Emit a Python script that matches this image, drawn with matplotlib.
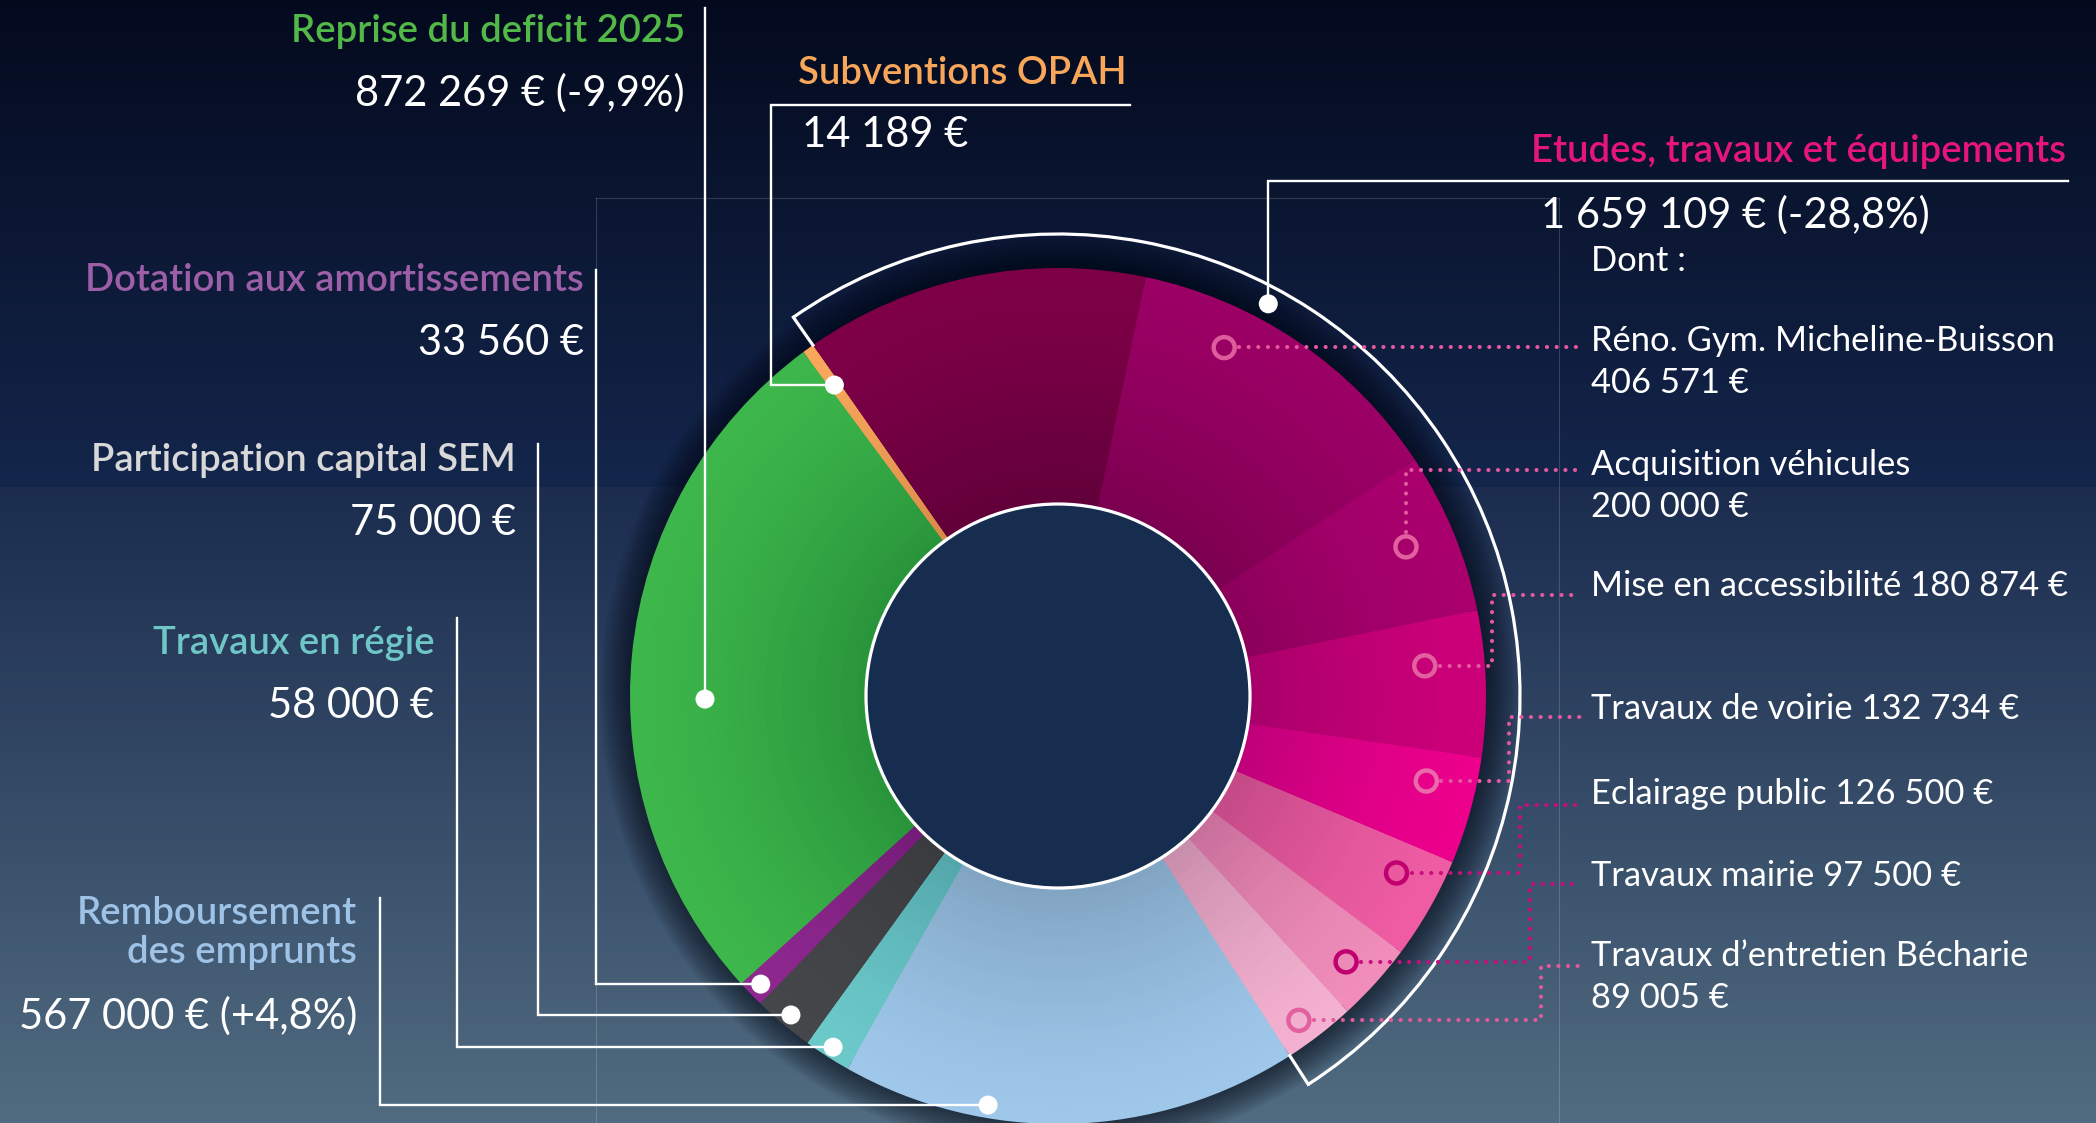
import numpy as np
import matplotlib
matplotlib.use("Agg")
import matplotlib.pyplot as plt
from matplotlib.patches import Circle, Arc
from matplotlib.colors import to_rgb

# ---------------- data ----------------
main_labels = ["Reprise du deficit 2025", "Dotation aux amortissements",
               "Participation capital SEM", "Travaux en régie",
               "Remboursement\ndes emprunts", "Etudes, travaux et équipements",
               "Subventions OPAH"]
main_values = [872269, 33560, 75000, 58000, 567000, 1659109, 14189]
main_changes = ["-9,9%", None, None, None, "+4,8%", "-28,8%", None]

sub_labels = ["Travaux d’entretien Bécharie", "Travaux mairie", "Eclairage public",
              "Travaux de voirie", "Mise en accessibilité", "Acquisition véhicules",
              "Réno. Gym. Micheline-Buisson"]
sub_values = [89005, 97500, 126500, 132734, 180874, 200000, 406571]

etudes_other = main_values[5] - sum(sub_values)
pie_values = main_values[:5] + sub_values + [etudes_other, main_values[6]]

# ---------------- style ----------------
outer_cols = ["#3db64b", "#8e288f", "#454649", "#6cc9c9", "#9ec7ea",
              "#f4b0d0", "#f08dba", "#ef5ca3", "#ec008c", "#cc0079",
              "#a9006d", "#9b0064", "#7d0046", "#f8a75b"]
inner_cols = ["#29953b", "#741c77", "#3a3b3e", "#53a7ab", "#82a5c3",
              "#c98eab", "#c96f9b", "#c44a88", "#c0007a", "#a8006a",
              "#8c005b", "#7c0050", "#62003a", "#d98b48"]

W, H = 2096, 1123
CX, CY = 1058, 696
R_OUT, R_IN = 428, 192
R_BRACKET = 462
START = 126.5  # visual angle (deg, ccw) where the first slice starts

fig = plt.figure(figsize=(W / 100, H / 100), dpi=100)
ax = fig.add_axes([0, 0, 1, 1])

# background gradient (two bands)
band = 487
c_top, c_mid1 = np.array(to_rgb("#040a1e")), np.array(to_rgb("#14264c"))
c_mid2, c_bot = np.array(to_rgb("#1b2c4f")), np.array(to_rgb("#516c81"))
img = np.zeros((H, 1, 3))
for yy in range(H):
    if yy < band:
        t = yy / band
        img[yy, 0] = c_top + (c_mid1 - c_top) * t
    else:
        t = (yy - band) / (H - band)
        img[yy, 0] = c_mid2 + (c_bot - c_mid2) * t
ax.imshow(img, extent=(0, W, H, 0), aspect="auto", zorder=0, interpolation="bilinear")

# faint frame lines
faint = dict(color="white", alpha=0.16, lw=0.8, zorder=0.5)
ax.plot([596, 596], [198, H], **faint)
ax.plot([1559, 1559], [198, H], **faint)
ax.plot([596, 1559], [198, 198], **faint)

# shadow around donut
for k in range(12):
    ax.add_patch(Circle((CX, CY), R_OUT + 1 + k * 2.6, color="#00030d",
                        alpha=0.06, lw=0, zorder=1))

# donut with radial gradient
N = 28
for i in range(N):
    t = (i / (N - 1)) ** 1.4
    r = R_OUT - (R_OUT - R_IN) * i / N
    cols = [tuple(np.array(to_rgb(o)) * (1 - t) + np.array(to_rgb(n)) * t)
            for o, n in zip(outer_cols, inner_cols)]
    ax.pie(pie_values, radius=r, center=(CX, CY), startangle=-START,
           counterclock=False, colors=cols,
           wedgeprops=dict(width=r - R_IN + 1, linewidth=0, zorder=2 + i * 0.001))

total = sum(pie_values)
bounds = START + np.concatenate([[0], np.cumsum(pie_values)]) / total * 360.0


def pt(ang, r):
    a = np.deg2rad(ang)
    return CX + r * np.cos(a), CY - r * np.sin(a)


# center disc
ax.add_patch(Circle((CX, CY), R_IN, fc="#172d4f", ec="white", lw=2.3, zorder=5))

# bracket around "Etudes"
e_start = bounds[5]
e_end = bounds[5 + len(sub_values) + 1]
th2 = 360 - e_start
th1 = th2 - (e_end - e_start)
ax.add_patch(Arc((CX, CY), 2 * R_BRACKET, 2 * R_BRACKET, theta1=th1, theta2=th2,
                 color="white", lw=2.3, zorder=6))
for ang in (e_start, e_end):
    x0, y0 = pt(ang, R_OUT)
    x1, y1 = pt(ang, R_BRACKET)
    ax.plot([x0, x1], [y0, y1], color="white", lw=2.3, zorder=6,
            solid_capstyle="projecting")

# ---------------- leaders for main categories ----------------
LW = 1.7
mids = (bounds[:-1] + bounds[1:]) / 2
anchors = {
    0: (180.5, 353),
    1: (mids[1], 414),
    2: (mids[2], 416),
    3: (mids[3], 417),
    4: (260.3, 415),
    5: (61.8, 445),
    6: (mids[-1], 383),
}


def dot(p):
    ax.add_patch(Circle(p, 9.5, fc="white", ec="none", zorder=8))


# green: straight up
p = pt(*anchors[0]); dot(p)
ax.plot([p[0], p[0]], [p[1], 8], color="white", lw=LW, zorder=7)
# left-side small categories
leader_x = {1: 596.4, 2: 538, 3: 456.7, 4: 379.5}
leader_top = {1: 270, 2: 444, 3: 618, 4: 898}
for k in (1, 2, 3, 4):
    p = pt(*anchors[k]); dot(p)
    ax.plot([p[0], leader_x[k], leader_x[k]], [p[1], p[1], leader_top[k]],
            color="white", lw=LW, zorder=7, solid_joinstyle="miter")
# OPAH
p = pt(*anchors[6]); dot(p)
ax.plot([p[0], 771, 771, 1129.5], [p[1], p[1], 105.4, 105.4],
        color="white", lw=LW, zorder=7, solid_joinstyle="miter")
# Etudes
p = pt(*anchors[5]); dot(p)
ax.plot([p[0], p[0], 2068], [p[1], 181, 181], color="white", lw=LW, zorder=7,
        solid_joinstyle="miter")

# ---------------- sub-item ring markers & dotted leaders ----------------
ring_pos = [(306.6, 404), (317.3, 392), (332.4, 382), (347.0, 378),
            (4.7, 368), (23.2, 378.6), (64.5, 386)]
ring_cols = ["#e2609f", "#bf006e", "#bf006e", "#ea6aa9", "#e2609f", "#e2609f", "#de5c9c"]
dot_cols = ["#e4589e", "#c80d7e", "#c80d7e", "#e4589e", "#e4589e", "#e4589e", "#e4589e"]
turn_x = [1541, 1530, 1520, 1509, 1492, None, None]
line_y = [966, 884, 805, 717, 595, 470, 346.5]
X_END = 1580
for i in range(len(sub_values)):
    rx, ry = pt(*ring_pos[i])
    ax.add_patch(Circle((rx, ry), 10.5, fc="none", ec=ring_cols[i], lw=3.2, zorder=8))
    if turn_x[i] is None and abs(ry - line_y[i]) > 3:
        xs = [rx, rx, X_END]; ys = [ry - 15, line_y[i], line_y[i]]
    elif turn_x[i] is None:
        xs = [rx + 15, X_END]; ys = [line_y[i], line_y[i]]
    else:
        xs = [rx + 15, turn_x[i], turn_x[i], X_END]
        ys = [ry, ry, line_y[i], line_y[i]]
    ax.plot(xs, ys, color=dot_cols[i], lw=3.0, linestyle=(0, (0.01, 2.3)),
            dash_capstyle="round", zorder=7)

# ---------------- texts ----------------
def fmt(v):
    return f"{v:,}".replace(",", " ") + " €"


TITLE = dict(family="Lato", weight="semibold", fontsize=27.5)
VAL = dict(family="Lato", weight="normal", fontsize=30, color="white")
SUB = dict(family="Lato", weight="normal", fontsize=24.8, color="white")

title_cols = ["#52b848", "#9d5fa8", "#d8d8d8", "#6fc6c6", "#9fc3e6", "#e6157e", "#f7a65a"]
title_pos = [(685, 42), (584, 291), (516, 471), (435, 654), (357, 924)]
value_pos = [(685, 106), (584, 355), (516, 535), (434, 718), (357, 1029)]
TITLE_LS = 39

for k in range(5):
    x, y = title_pos[k]
    for j, line in enumerate(main_labels[k].split("\n")):
        ax.text(x, y + j * TITLE_LS, line, ha="right", va="baseline",
                color=title_cols[k], zorder=10, **TITLE)
    s = fmt(main_values[k]) + (f" ({main_changes[k]})" if main_changes[k] else "")
    ax.text(*value_pos[k], s, ha="right", va="baseline", zorder=10, **VAL)

# OPAH
ax.text(798, 83.5, main_labels[6], ha="left", va="baseline", color=title_cols[6],
        zorder=10, **TITLE)
ax.text(802, 147, fmt(main_values[6]), ha="left", va="baseline", zorder=10, **VAL)

# Etudes
ax.text(2066, 162, main_labels[5], ha="right", va="baseline", color=title_cols[5],
        zorder=10, **TITLE)
ax.text(1541, 228, fmt(main_values[5]) + f" ({main_changes[5]})", ha="left",
        va="baseline", zorder=10, **VAL)
ax.text(1591, 271, "Dont :", ha="left", va="baseline", zorder=10, **SUB)

two_line = [True, False, False, False, False, True, True]
sub_text_y = [966, 886, 804, 719, 596, 475, 351]
SUB_LS = 42
for i in range(len(sub_values)):
    if two_line[i]:
        ax.text(1591, sub_text_y[i], sub_labels[i], ha="left", va="baseline", zorder=10, **SUB)
        ax.text(1591, sub_text_y[i] + SUB_LS, fmt(sub_values[i]), ha="left",
                va="baseline", zorder=10, **SUB)
    else:
        ax.text(1591, sub_text_y[i], sub_labels[i] + " " + fmt(sub_values[i]),
                ha="left", va="baseline", zorder=10, **SUB)

ax.set_xlim(0, W)
ax.set_ylim(H, 0)
ax.set_aspect("auto")
ax.axis("off")
fig.savefig("out.png", dpi=100)
